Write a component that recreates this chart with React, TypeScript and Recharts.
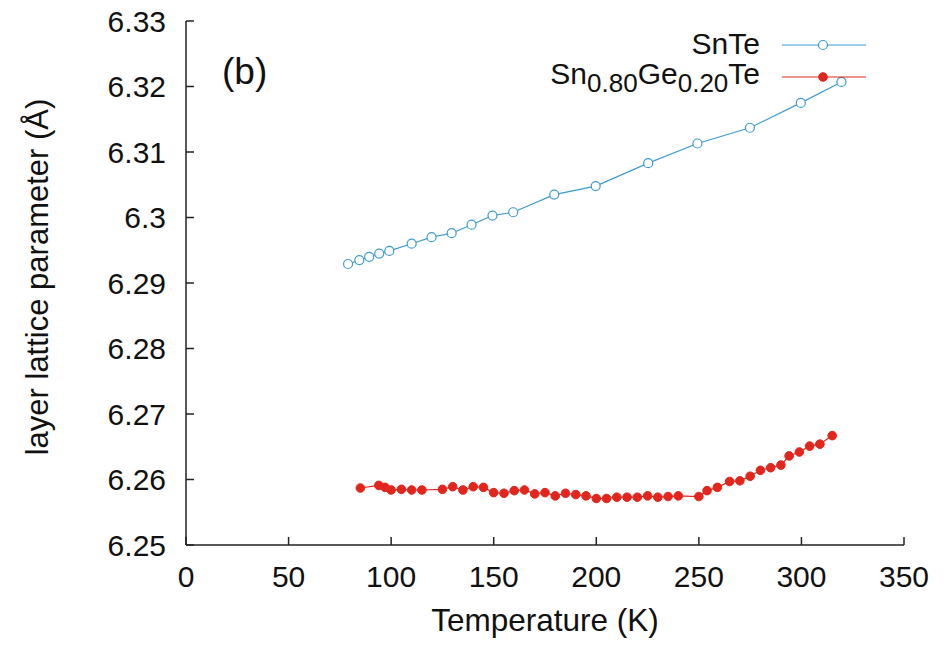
import React from "react";
import { LineChart, Line, XAxis, YAxis, Label } from "recharts";

// SnTe (open circles)
const snteTemp = [79, 84.5, 89.3, 94.2, 99.1, 110, 119.7, 129.5, 139.2, 149.4, 159.5, 179.5, 199.7, 225.3, 249.3, 274.9, 299.7, 319.5];
const snteLattice = [
  6.2929, 6.2935, 6.294, 6.2945, 6.2949, 6.296, 6.297, 6.2976, 6.2989, 6.3003, 6.3008, 6.3035, 6.3048, 6.3083,
  6.3113, 6.3137, 6.3175, 6.3207,
];

// Sn0.80Ge0.20Te (filled circles)
const sngeTemp = [
  85, 94, 97, 100, 105, 110, 115, 125, 130, 135, 140, 145, 150, 155, 160, 165, 170, 175, 180, 185, 190, 195, 200,
  205, 210, 215, 220, 225, 230, 235, 240, 250, 254, 259, 265, 270, 275, 280, 285, 290, 294, 299, 304, 309, 315,
];
const sngeLattice = [
  6.2587, 6.2591, 6.2588, 6.2584, 6.2585, 6.2584, 6.2584, 6.2585, 6.2589, 6.2584, 6.2589, 6.2588, 6.258, 6.2579,
  6.2583, 6.2584, 6.2578, 6.258, 6.2575, 6.2579, 6.2577, 6.2575, 6.2571, 6.2571, 6.2573, 6.2573, 6.2573, 6.2575,
  6.2573, 6.2574, 6.2575, 6.2574, 6.2583, 6.2588, 6.2597, 6.2598, 6.2605, 6.2614, 6.2618, 6.2622, 6.2636, 6.2642,
  6.2651, 6.2654, 6.2667,
];

const xTicks = [0, 50, 100, 150, 200, 250, 300, 350];
const yTicks = [6.25, 6.26, 6.27, 6.28, 6.29, 6.3, 6.31, 6.32, 6.33];

const BLUE = "#3f9bd0";
const RED = "#e2261d";
const FONT = "Liberation Sans, Arial, sans-serif";

const snteData = snteTemp.map((t, i) => ({ t, a: snteLattice[i] }));
const sngeData = sngeTemp.map((t, i) => ({ t, a: sngeLattice[i] }));

const fmtY = (v: number) => String(Number(v.toFixed(2)));

// gnuplot-style key, top right inside the frame
const LegendBox = () => (
  <svg width={340} height={80} style={{ position: "absolute", left: 540, top: 18 }}>
    <g fontFamily={FONT} fill="#111">
      <text x={220} y={36} fontSize={30} textAnchor="end">
        SnTe
      </text>
      <line x1={242} x2={326} y1={27} y2={27} stroke={BLUE} strokeWidth={1.2} />
      <circle cx={283} cy={27} r={4.5} fill="#fff" stroke={BLUE} strokeWidth={1.2} />
      <text x={220} y={66} fontSize={30} textAnchor="end">
        Sn
        <tspan fontSize={26} dy={8}>0.80</tspan>
        <tspan dy={-8}>Ge</tspan>
        <tspan fontSize={26} dy={8}>0.20</tspan>
        <tspan dy={-8}>Te</tspan>
      </text>
      <line x1={242} x2={326} y1={59} y2={59} stroke={RED} strokeWidth={1.2} />
      <circle cx={283} cy={59} r={4.3} fill={RED} stroke={RED} />
    </g>
  </svg>
);

const App = () => {
  const tickStyle = { fontSize: 30, fill: "#111", fontFamily: FONT };
  const axisStroke = { stroke: "#222", strokeWidth: 1.5 };
  return (
    <div style={{ position: "absolute", left: 0, top: 0, width: 952, height: 646, background: "#fff" }}>
      <LineChart width={952} height={646} margin={{ top: 21, right: 48, bottom: 1, left: 86 }}>
        <XAxis
          dataKey="t"
          type="number"
          domain={[0, 350]}
          ticks={xTicks}
          allowDuplicatedCategory={false}
          height={100}
          tickSize={-8}
          tickMargin={29}
          tick={tickStyle}
          axisLine={axisStroke}
          tickLine={axisStroke}
        >
          <Label
            value="Temperature (K)"
            position="insideBottom"
            offset={14}
            style={{ fontSize: 31.5, fill: "#111", fontFamily: FONT }}
          />
        </XAxis>
        <XAxis
          xAxisId="top"
          orientation="top"
          type="number"
          domain={[0, 350]}
          ticks={xTicks}
          height={0}
          tickSize={-8}
          tick={false}
          axisLine={axisStroke}
          tickLine={axisStroke}
        />
        <YAxis
          type="number"
          domain={[6.25, 6.33]}
          ticks={yTicks}
          allowDataOverflow
          width={100}
          tickSize={-8}
          tickMargin={28}
          tickFormatter={fmtY}
          tick={tickStyle}
          axisLine={axisStroke}
          tickLine={axisStroke}
        >
          <Label
            value="layer lattice parameter (Å)"
            angle={-90}
            position="insideLeft"
            offset={-49}
            dy={-6}
            style={{ fontSize: 31, fill: "#111", fontFamily: FONT, textAnchor: "middle" }}
          />
        </YAxis>
        <YAxis
          yAxisId="right"
          orientation="right"
          type="number"
          domain={[6.25, 6.33]}
          ticks={yTicks}
          width={0}
          tickSize={-8}
          tick={false}
          axisLine={axisStroke}
          tickLine={axisStroke}
        />
        <Line
          data={snteData}
          dataKey="a"
          name="SnTe"
          type="linear"
          stroke={BLUE}
          strokeWidth={1.2}
          dot={{ r: 4.5, fill: "#fff", stroke: BLUE, strokeWidth: 1.2 }}
          activeDot={false}
          isAnimationActive={false}
        />
        <Line
          data={sngeData}
          dataKey="a"
          name="Sn0.80Ge0.20Te"
          type="linear"
          stroke={RED}
          strokeWidth={1.2}
          dot={{ r: 4.3, fill: RED, stroke: RED, strokeWidth: 1 }}
          activeDot={false}
          isAnimationActive={false}
        />
      </LineChart>
      <LegendBox />
      <div
        style={{
          position: "absolute",
          left: 222,
          top: 50,
          fontSize: 37,
          fontFamily: FONT,
          color: "#111",
          lineHeight: "44px",
        }}
      >
        (b)
      </div>
    </div>
  );
};

export default App;
